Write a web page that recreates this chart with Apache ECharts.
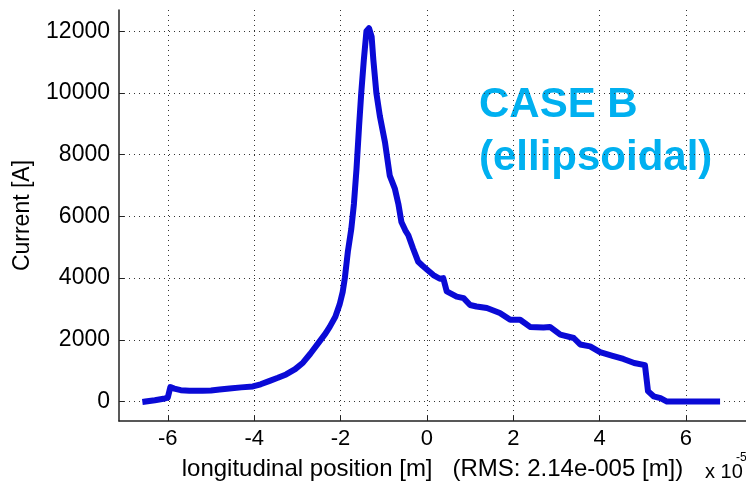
<!DOCTYPE html>
<html>
<head>
<meta charset="utf-8">
<script src="https://cdn.jsdelivr.net/npm/echarts@6/dist/echarts.min.js"></script>
<style>
  html, body { margin: 0; padding: 0; background: #fff; }
  #chart { width: 746px; height: 486px; }
</style>
</head>
<body>
<div id="chart"></div>
<script>
// Longitudinal position (units of 1e-5 m) and beam current [A]
const positions = [
  -6.52, -6.3, -6.1, -6.0, -5.97, -5.94, -5.85, -5.7, -5.5, -5.2, -5.0, -4.8, -4.57, -4.3, -4.03,
  -3.85, -3.64, -3.45, -3.26, -3.05, -2.87, -2.7, -2.48, -2.35, -2.25, -2.12, -2.02, -1.95, -1.9,
  -1.83, -1.75, -1.69, -1.63, -1.57, -1.52, -1.46, -1.4, -1.34, -1.28, -1.24, -1.17, -1.09, -0.97,
  -0.86, -0.74, -0.66, -0.59, -0.5, -0.43, -0.32, -0.2, -0.1, 0.0, 0.15, 0.3, 0.38, 0.46, 0.69,
  0.85, 1.0, 1.15, 1.39, 1.69, 1.93, 2.16, 2.39, 2.7, 2.85, 3.09, 3.4, 3.55, 3.78, 4.01, 4.3,
  4.55, 4.8, 5.05, 5.09, 5.12, 5.25, 5.41, 5.56, 6.72
];
const currents = [
  0, 40, 90, 130, 300, 470, 420, 370, 350, 350, 360, 390, 420, 460, 490,
  560, 670, 770, 880, 1050, 1260, 1550, 1960, 2200, 2420, 2750, 3150, 3550, 4000,
  4860, 5600, 6400, 7540, 8930, 10000, 11080, 12000, 12100, 11830, 11080, 10000, 9260, 8400,
  7320, 6890, 6400, 5820, 5550, 5390, 4960, 4530, 4400, 4280, 4100, 3980, 4000, 3570, 3400,
  3350, 3130, 3080, 3030, 2870, 2650, 2650, 2420, 2400, 2420, 2170, 2060, 1850, 1790, 1600, 1480,
  1380, 1250, 1180, 700, 340, 170, 110, 0, 0
];
const xTicks = [-6, -4, -2, 0, 2, 4, 6];
const yTicks = [0, 2000, 4000, 6000, 8000, 10000, 12000];

const FONT = '"Liberation Sans", Arial, sans-serif';
const chart = echarts.init(document.getElementById('chart'), null, { renderer: 'canvas' });

const dotted = { show: true, lineStyle: { color: '#333', type: [1, 4], width: 1 } };

chart.setOption({
  animation: false,
  backgroundColor: '#fff',
  grid: { left: 119, right: 0, top: 10, bottom: 63 },
  xAxis: {
    type: 'value',
    min: -7.13,
    max: 7.39,
    axisLine: { show: true, onZero: false, lineStyle: { color: '#222', width: 1.5 } },
    axisTick: { show: true, inside: true, length: 5, customValues: xTicks, lineStyle: { color: '#222' } },
    axisLabel: { customValues: xTicks, color: '#000', fontSize: 22, fontFamily: FONT, margin: 7,
                 formatter: v => String(v) },
    splitLine: dotted,
    name: 'longitudinal position [m]   (RMS: 2.14e-005 [m])',
    nameLocation: 'middle',
    nameGap: 36,
    nameTextStyle: { color: '#000', fontSize: 24, fontFamily: FONT }
  },
  yAxis: {
    type: 'value',
    min: -630,
    max: 12690,
    axisLine: { show: true, onZero: false, lineStyle: { color: '#222', width: 1.5 } },
    axisTick: { show: true, inside: true, length: 5, customValues: yTicks, lineStyle: { color: '#222' } },
    axisLabel: { customValues: yTicks, color: '#000', fontSize: 23, fontFamily: FONT, margin: 9,
                 formatter: v => String(v) },
    splitLine: dotted,
    name: 'Current [A]',
    nameLocation: 'middle',
    nameGap: 85,
    nameTextStyle: { color: '#000', fontSize: 23, fontFamily: FONT }
  },
  series: [{
    type: 'line',
    data: positions.map((p, i) => [p, currents[i]]),
    showSymbol: false,
    lineStyle: { color: '#0a0ad6', width: 6, join: 'round', cap: 'square' },
    z: 5
  }],
  graphic: [
    { type: 'text', left: 705, top: 462, style: { text: 'x 10', font: '20px ' + FONT, fill: '#000' } },
    { type: 'text', left: 736, top: 452, style: { text: '-5', font: '12px ' + FONT, fill: '#000' } },
    { type: 'text', left: 479, top: 84, style: { text: 'CASE B', font: 'bold 42px ' + FONT, fill: '#00b0f0' } },
    { type: 'text', left: 479, top: 137, style: { text: '(ellipsoidal)', font: 'bold 42px ' + FONT, fill: '#00b0f0' } }
  ]
});
</script>
</body>
</html>
